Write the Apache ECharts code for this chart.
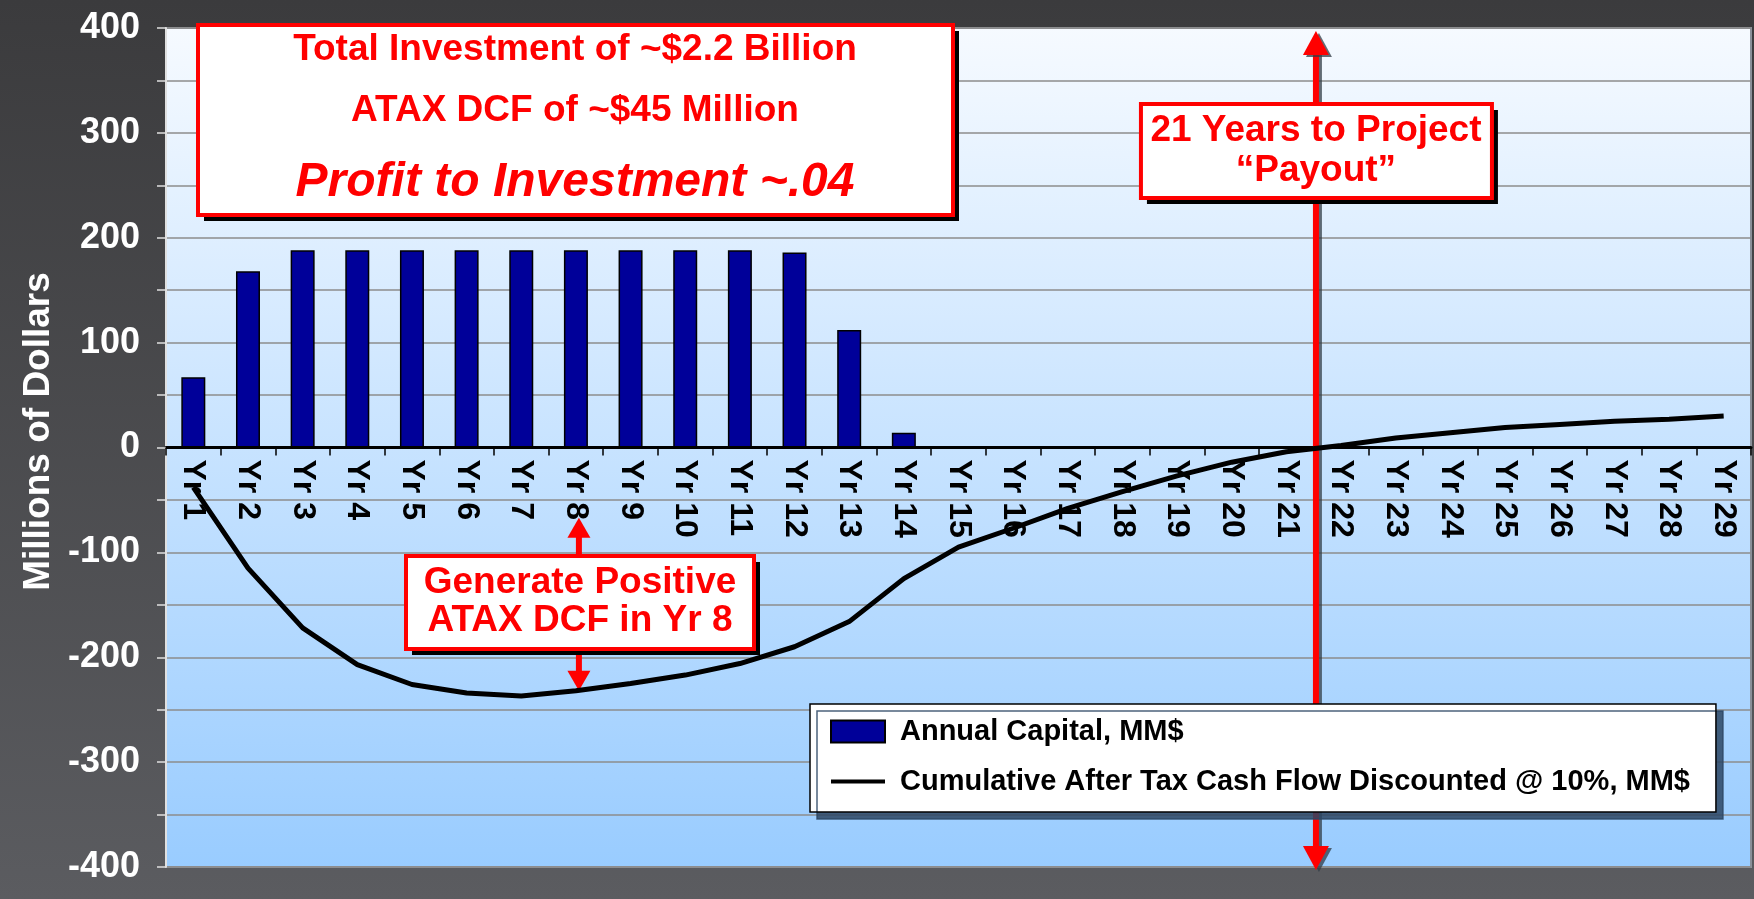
<!DOCTYPE html>
<html>
<head>
<meta charset="utf-8">
<script src="https://cdn.jsdelivr.net/npm/echarts@6/dist/echarts.min.js"></script>
<style>
    html, body { margin: 0; padding: 0; }
    #chart {
        width: 1754px;
        height: 899px;
        background: linear-gradient(#3b3b3d, #5b5c60);
    }
</style>
</head>
<body>
<div id="chart"></div>
<script>
const years = ['Yr 1', 'Yr 2', 'Yr 3', 'Yr 4', 'Yr 5', 'Yr 6', 'Yr 7', 'Yr 8', 'Yr 9', 'Yr 10',
    'Yr 11', 'Yr 12', 'Yr 13', 'Yr 14', 'Yr 15', 'Yr 16', 'Yr 17', 'Yr 18', 'Yr 19', 'Yr 20',
    'Yr 21', 'Yr 22', 'Yr 23', 'Yr 24', 'Yr 25', 'Yr 26', 'Yr 27', 'Yr 28', 'Yr 29'];

// annual capital, MM$ (nothing spent after Yr 14)
const annualCapital = [67, 168, 188, 188, 188, 188, 188, 188, 188, 188,
    188, 186, 112, 14, '-', '-', '-', '-', '-', '-',
    '-', '-', '-', '-', '-', '-', '-', '-', '-'];

// cumulative after tax cash flow discounted @ 10%, MM$
const cumulativeDcf = [-38, -115, -172, -207, -226, -234, -237, -232, -225, -217,
    -206, -190, -166, -125, -95, -77, -58, -42, -27, -14,
    -4, 2, 9, 14, 19, 22, 25, 27, 30];

const seriesNames = ['Annual Capital, MM$', 'Cumulative After Tax Cash Flow Discounted @ 10%, MM$'];

// annotations
const positiveYear = 7;       // index of Yr 8
const positiveArrowTop = -67; // arrow tip just under the axis labels
const payoutAt = 20.54;       // between Yr 21 and Yr 22

const FONT = '"Liberation Sans", Arial, sans-serif';
const chart = echarts.init(document.getElementById('chart'));

chart.setOption({
    animation: false,
    grid: {
        left: 166,
        right: 3,
        top: 28,
        bottom: 32,
        outerBoundsMode: 'none',
        containLabel: false,
        show: true,
        backgroundColor: {
            type: 'linear', x: 0, y: 0, x2: 0, y2: 1,
            colorStops: [{ offset: 0, color: '#f6faff' }, { offset: 1, color: '#99ccff' }]
        },
        borderColor: '#8a9099',
        borderWidth: 2
    },
    legend: {
        orient: 'vertical',
        left: 810,
        top: 704,
        padding: [13, 26, 16, 20],
        itemGap: 21,
        itemWidth: 54,
        itemHeight: 22,
        symbolKeepAspect: true,
        backgroundColor: '#fff',
        borderColor: '#000',
        borderWidth: 1.5,
        shadowColor: 'rgba(45,70,100,0.85)',
        shadowOffsetX: 7,
        shadowOffsetY: 7,
        shadowBlur: 0,
        textStyle: {
            color: '#000',
            fontSize: 29,
            fontWeight: 'bold',
            fontFamily: FONT,
            padding: [0, 0, 0, 10]
        },
        data: [
            { name: seriesNames[0], icon: 'rect' },
            { name: seriesNames[1], icon: 'path://M0,0 L54,0 L54,4 L0,4 Z' }
        ]
    },
    xAxis: {
        type: 'category',
        data: years,
        // moved up onto the zero line below, once the scale is known
        axisLine: { onZero: false, lineStyle: { color: '#000', width: 3 } },
        axisTick: { show: true, length: 8, lineStyle: { color: '#000', width: 1.5 } },
        axisLabel: {
            interval: 0,
            rotate: -90,
            margin: 12,
            color: '#000',
            fontSize: 32,
            fontWeight: 'bold',
            fontFamily: FONT
        },
        splitLine: { show: false }
    },
    yAxis: {
        type: 'value',
        min: -400,
        max: 400,
        interval: 50,
        name: 'Millions of Dollars',
        nameLocation: 'middle',
        nameGap: 106,
        nameTextStyle: {
            color: '#fff',
            fontSize: 37,
            fontWeight: 'bold',
            fontFamily: FONT,
            padding: [0, 0, 0, 32],
            textShadowColor: 'rgba(0,0,0,0.6)',
            textShadowOffsetX: 2,
            textShadowOffsetY: 2
        },
        axisLine: { show: true, lineStyle: { color: '#e0e0e0', width: 2 } },
        axisTick: { show: true, length: 9, lineStyle: { color: '#e0e0e0', width: 1.5 } },
        axisLabel: {
            margin: 26,
            color: '#fff',
            fontSize: 36,
            fontWeight: 'bold',
            fontFamily: FONT,
            textShadowColor: 'rgba(0,0,0,0.6)',
            textShadowOffsetX: 2,
            textShadowOffsetY: 2,
            formatter: v => (v % 100 === 0 ? String(v) : '')
        },
        splitLine: { lineStyle: { color: '#8c8c8c', width: 1.5 } }
    },
    series: [
        {
            name: seriesNames[0],
            type: 'bar',
            data: annualCapital,
            barWidth: 24,
            itemStyle: { color: '#000099', borderColor: '#000', borderWidth: 1.5 }
        },
        {
            name: seriesNames[1],
            type: 'line',
            data: cumulativeDcf,
            symbol: 'none',
            lineStyle: { color: '#000', width: 5 },
            itemStyle: { color: '#000' }
        }
    ]
});

const px = (i, v) => chart.convertToPixel({ gridIndex: 0 }, [i, v]);

// vertical red arrow; heads at both ends
const arrow = (x, yTop, yBot, shaft, headW, headH, shadow) => {
    const st = shadow
        ? { shadowColor: 'rgba(50,60,70,0.75)', shadowOffsetX: 3, shadowOffsetY: 2, shadowBlur: 0 }
        : {};
    return [
        { type: 'line', z: 3, shape: { x1: x, y1: yTop + headH - 2, x2: x, y2: yBot - headH + 2 },
          style: Object.assign({ stroke: '#ff0000', lineWidth: shaft }, st) },
        { type: 'polygon', z: 3, shape: { points: [[x - headW / 2, yTop + headH], [x + headW / 2, yTop + headH], [x, yTop]] },
          style: Object.assign({ fill: '#ff0000' }, st) },
        { type: 'polygon', z: 3, shape: { points: [[x - headW / 2, yBot - headH], [x + headW / 2, yBot - headH], [x, yBot]] },
          style: Object.assign({ fill: '#ff0000' }, st) }
    ];
};

// white note box with red border, black drop shadow
const note = (x, y, w, h, cx, lines) => {
    const els = [
        { type: 'rect', z: 5, shape: { x: x + 6, y: y + 6, width: w, height: h }, style: { fill: '#000' } },
        { type: 'rect', z: 5, shape: { x: x, y: y, width: w, height: h },
          style: { fill: '#fff', stroke: '#ff0000', lineWidth: 4 } }
    ];
    lines.forEach(l => {
        els.push({
            type: 'text', z: 6, x: cx, y: l.y,
            style: {
                text: l.text,
                font: l.font || 'bold 37px ' + FONT,
                fill: '#ff0000',
                align: 'center',
                verticalAlign: 'middle',
                textShadowColor: 'rgba(120,120,120,0.7)',
                textShadowOffsetX: 2,
                textShadowOffsetY: 2
            }
        });
    });
    return els;
};

const zeroY = px(0, 0)[1];
const axisTop = px(0, 400)[1];
const axisBot = px(0, -400)[1];
const pA = px(Math.floor(payoutAt), 0);
const pB = px(Math.floor(payoutAt) + 1, 0);
const payoutX = pA[0] + (pB[0] - pA[0]) * (payoutAt - Math.floor(payoutAt));
const yr8X = px(positiveYear, 0)[0] + 3;
const yr8Top = px(positiveYear, positiveArrowTop)[1];
const yr8Bot = px(positiveYear, cumulativeDcf[positiveYear])[1];

chart.setOption({
    // put the category axis (line, ticks and labels) on the zero line
    xAxis: { offset: zeroY - axisBot },
    graphic: [].concat(
        arrow(payoutX, axisTop + 3, axisBot + 3, 6, 26, 24, true),
        arrow(yr8X, yr8Top, yr8Bot, 6, 23, 20, false),
        note(198, 25, 755, 190, 575, [
            { text: 'Total Investment of ~$2.2 Billion', y: 50 },
            { text: 'ATAX DCF of ~$45 Million', y: 111 },
            { text: 'Profit to Investment ~.04', y: 183, font: 'italic bold 48px ' + FONT }
        ]),
        note(payoutX - 175, 104, 351, 94, payoutX, [
            { text: '21 Years to Project', y: 131 },
            { text: '\u201cPayout\u201d', y: 171 }
        ]),
        note(406, 556, 348, 93, 580, [
            { text: 'Generate Positive', y: 583 },
            { text: 'ATAX DCF in Yr 8', y: 621 }
        ])
    )
});
</script>
</body>
</html>
